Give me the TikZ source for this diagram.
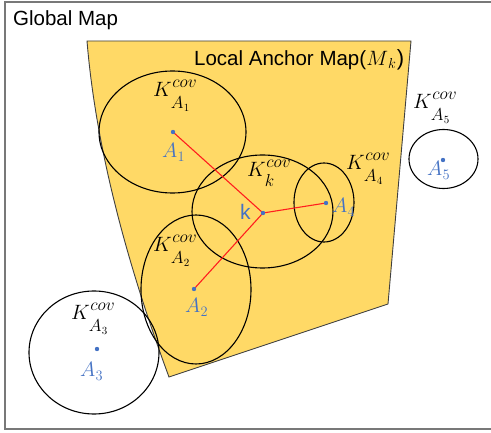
\documentclass[tikz,border=0pt]{standalone}
\usepackage{fontspec}
\setmainfont{Liberation Sans}
\definecolor{mapyellow}{RGB}{255,217,102}
\definecolor{anchorblue}{RGB}{68,114,196}
\definecolor{linkred}{RGB}{255,30,30}
\definecolor{framegray}{RGB}{120,120,120}
\newcommand{\covlab}[1]{$K$\kern0.5pt\rlap{\raisebox{9.5pt}{\fontsize{16}{16}\selectfont$cov$}}\kern-1.5pt\raisebox{-12pt}{\fontsize{16}{16}\selectfont$A$\kern0.3pt\raisebox{-3pt}{\fontsize{11}{11}\selectfont$#1$}}}
\newcommand{\covlabk}{$K$\kern0.5pt\rlap{\raisebox{9.5pt}{\fontsize{16}{16}\selectfont$cov$}}\kern-1.5pt\raisebox{-10pt}{\fontsize{16}{16}\selectfont$k$}}
\newcommand{\ptlab}[1]{$A$\kern0.3pt\raisebox{-4pt}{\fontsize{14}{14}\selectfont$#1$}}
\begin{document}
\begin{tikzpicture}[x=1pt,y=-1pt,
  covring/.style={draw=black,line width=1.1pt},
  link/.style={draw=linkred,line width=1.1pt},
  covlabel/.style={anchor=base west,inner sep=0pt,font=\fontsize{21}{24}\selectfont},
  ptlabel/.style={anchor=base west,inner sep=0pt,text=anchorblue,font=\fontsize{21}{24}\selectfont},
  titlelabel/.style={anchor=base west,inner sep=0pt,font=\fontsize{20.5}{24}\selectfont},
  dot/.style={fill=anchorblue}]
\useasboundingbox (0,0) rectangle (491,433);
\fill[white] (0,0) rectangle (491,433);
% global frame
\draw[framegray,line width=1.2pt] (492,2) -- (5,2) -- (5,429) -- (492,429);
\node[titlelabel] (global) at (13,26) {Global Map};
% local anchor map region
\filldraw[fill=mapyellow,draw=black!75,line width=0.9pt]
  (87,41) -- (411,41) -- (388,304) -- (169,377)
  .. controls (122,250) and (95,138) .. cycle;
\node[titlelabel] (local) at (194,66) {Local Anchor Map(\fontsize{22}{24}\selectfont$M$\raisebox{-3pt}{\fontsize{15}{15}\selectfont$k$}\kern1pt)};
% coverage ellipses
\draw[covring] (172.5,132) ellipse [x radius=73.5pt, y radius=61pt];
\draw[covring] (262.5,211.5) ellipse [x radius=70.5pt, y radius=56.5pt];
\draw[covring] (324,202.5) ellipse [x radius=30pt, y radius=39.5pt];
\draw[covring] (196,289.5) ellipse [x radius=55pt, y radius=74.5pt];
\draw[covring] (94,352.5) ellipse [x radius=65pt, y radius=61.5pt];
\draw[covring] (443.5,159) ellipse [x radius=34.5pt, y radius=29.5pt];
% anchor points
\coordinate (k) at (263,213);
\coordinate (a1) at (173,132);
\coordinate (a2) at (194,289);
\coordinate (a3) at (97,349);
\coordinate (a4) at (326,203);
\coordinate (a5) at (443,160);
\draw[link] (k) -- (a1);
\draw[link] (k) -- (a2);
\draw[link] (k) -- (a4);
\foreach \p in {k,a1,a2,a3,a4,a5} \fill[dot] (\p) circle[radius=2.2pt];
% coverage labels
\node[covlabel] (lka1) at (153,97) {\covlab{1}};
\node[covlabel] (lkk) at (247,177) {\covlabk};
\node[covlabel] (lka4) at (346,170) {\covlab{4}};
\node[covlabel] (lka2) at (153,252) {\covlab{2}};
\node[covlabel] (lka3) at (71,320) {\covlab{3}};
\node[covlabel] (lka5) at (413,109) {\covlab{5}};
% point labels
\node[ptlabel] (la1) at (162,158) {\ptlab{1}};
\node[ptlabel] (la2) at (185,313) {\ptlab{2}};
\node[ptlabel] (la3) at (80,377) {\ptlab{3}};
\node[ptlabel] (la4) at (332,213) {\ptlab{4}};
\node[ptlabel] (la5) at (427,176) {\ptlab{5}};
\node[ptlabel,font=\fontsize{21}{24}\selectfont] (lk) at (240,220) {k};
\end{tikzpicture}
\end{document}
